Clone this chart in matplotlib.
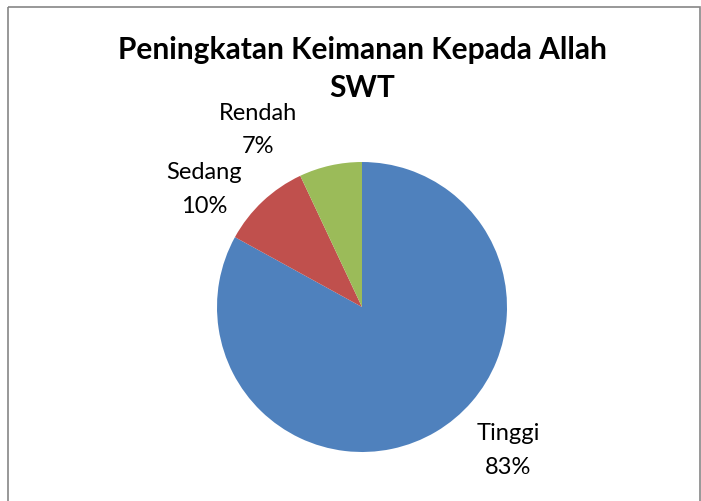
import numpy as np
import matplotlib.pyplot as plt
from matplotlib.patches import Rectangle

# data
categories = ["Tinggi", "Sedang", "Rendah"]
percent = [83, 10, 7]
colors = ["#4F81BD", "#C0504D", "#9BBB59"]

plt.rcParams['font.family'] = ['Lato', 'DejaVu Sans']

W, H = 701, 501
fig = plt.figure(figsize=(W / 100, H / 100), dpi=100)

# chart border
bg = fig.add_axes([0, 0, 1, 1])
bg.set_xlim(0, W)
bg.set_ylim(H, 0)
bg.axis('off')
bg.add_patch(Rectangle((8, 7), W - 8 - 1, H, fill=False, edgecolor='#868686', lw=1.2))

# pie area: centre (362, 307), radius 145 px
cx, cy, r = 362, 307, 145
ax = fig.add_axes([(cx - r) / W, (H - cy - r) / H, 2 * r / W, 2 * r / H])
ax.pie(percent, colors=colors, startangle=90, counterclock=False, radius=1,
       wedgeprops=dict(linewidth=0))
ax.set_xlim(-1, 1)
ax.set_ylim(-1, 1)
ax.set_aspect('auto')
ax.axis('off')

# label offsets (in pie radii) like Excel's best-fit placement
label_pos = {"Tinggi": (1.01, -0.99), "Sedang": (-1.09, 0.81), "Rendah": (-0.72, 1.22)}
for cat, p in zip(categories, percent):
    x, y = label_pos[cat]
    ax.text(x, y, f"{cat}\n{p}%", ha='center', va='center', fontsize=17,
            linespacing=1.75, color='black', clip_on=False)

fig.text(cx / W, 1 - 50 / H, "Peningkatan Keimanan Kepada Allah", ha='center', va='center',
         fontsize=21.5, fontweight='bold')
fig.text(cx / W, 1 - 88 / H, "SWT", ha='center', va='center',
         fontsize=21.5, fontweight='bold')

fig.savefig("out.png", dpi=100)
